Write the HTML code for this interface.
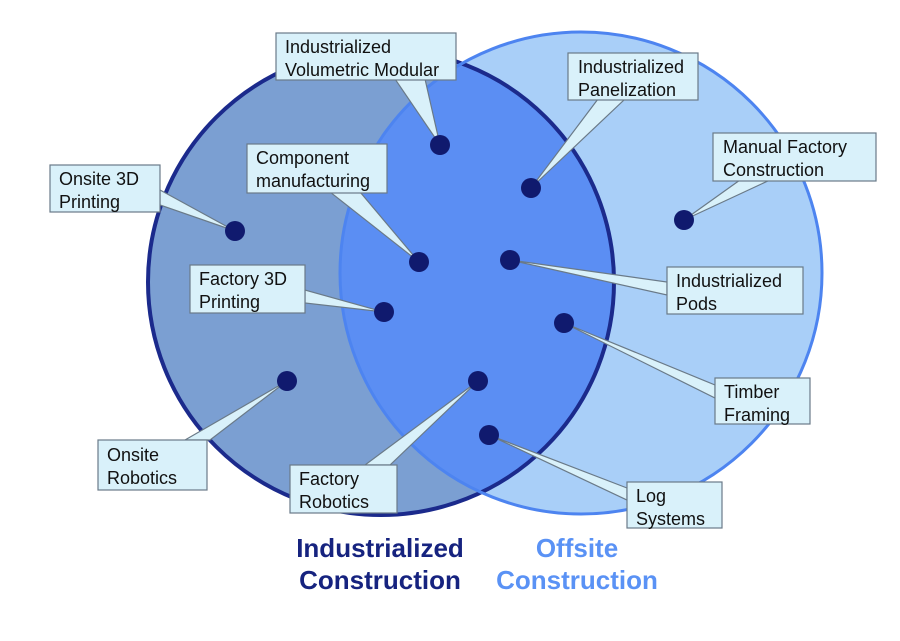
<!DOCTYPE html>
<html><head><meta charset="utf-8"><style>
html,body{margin:0;padding:0;background:#fff;}
svg{display:block;}
text{font-family:"Liberation Sans",Arial,sans-serif;}
</style></head><body>
<svg width="900" height="641" viewBox="0 0 900 641" xmlns="http://www.w3.org/2000/svg">
<defs>
<clipPath id="cl"><circle cx="381" cy="282" r="233"/></clipPath>
</defs>
<circle cx="581" cy="273" r="241" fill="#a9cff8"/>
<circle cx="381" cy="282" r="233" fill="#7b9fd2"/>
<circle cx="581" cy="273" r="241" fill="#5b8ef3" clip-path="url(#cl)"/>
<circle cx="381" cy="282" r="233" fill="none" stroke="#1b2a8c" stroke-width="4"/>
<circle cx="581" cy="273" r="241" fill="none" stroke="#4d84f0" stroke-width="3"/>

<g fill="#d9f1fa" stroke="#6a7a88" stroke-width="1.2">
<polygon points="395,79 425,79 440,145"/>
<polygon points="598,99 625,99 531,188"/>
<polygon points="740,180 770,180 684,220"/>
<polygon points="160,190 160,205 235,231"/>
<polygon points="330,192 360,192 419,262"/>
<polygon points="667,282 667,295 510,260"/>
<polygon points="305,290 305,303 384,312"/>
<polygon points="715,385 715,398 564,323"/>
<polygon points="185,440 210,440 287,381"/>
<polygon points="365,465 390,465 478,381"/>
<polygon points="627,488 627,500 489,435"/>
</g>
<g fill="#d9f1fa" stroke="#6a7a88" stroke-width="1.2">
<rect x="276" y="33" width="180" height="47"/>
<rect x="568" y="53" width="130" height="47"/>
<rect x="713" y="133" width="163" height="48"/>
<rect x="50" y="165" width="110" height="47"/>
<rect x="247" y="144" width="140" height="49"/>
<rect x="667" y="267" width="136" height="47"/>
<rect x="190" y="265" width="115" height="48"/>
<rect x="715" y="378" width="95" height="46"/>
<rect x="98" y="440" width="109" height="50"/>
<rect x="290" y="465" width="107" height="48"/>
<rect x="627" y="482" width="95" height="46"/>
</g>
<g fill="#101a6e">
<circle cx="440" cy="145" r="10"/><circle cx="531" cy="188" r="10"/>
<circle cx="684" cy="220" r="10"/><circle cx="235" cy="231" r="10"/>
<circle cx="419" cy="262" r="10"/><circle cx="510" cy="260" r="10"/>
<circle cx="384" cy="312" r="10"/><circle cx="564" cy="323" r="10"/>
<circle cx="287" cy="381" r="10"/><circle cx="478" cy="381" r="10"/>
<circle cx="489" cy="435" r="10"/>
</g>
<g font-size="18" fill="#111">
<text x="285" y="53">Industrialized</text><text x="285" y="76">Volumetric Modular</text>
<text x="578" y="73">Industrialized</text><text x="578" y="96">Panelization</text>
<text x="723" y="153">Manual Factory</text><text x="723" y="176">Construction</text>
<text x="59" y="185">Onsite 3D</text><text x="59" y="208">Printing</text>
<text x="256" y="164">Component</text><text x="256" y="187">manufacturing</text>
<text x="676" y="287">Industrialized</text><text x="676" y="310">Pods</text>
<text x="199" y="285">Factory 3D</text><text x="199" y="308">Printing</text>
<text x="724" y="398">Timber</text><text x="724" y="421">Framing</text>
<text x="107" y="461">Onsite</text><text x="107" y="484">Robotics</text>
<text x="299" y="485">Factory</text><text x="299" y="508">Robotics</text>
<text x="636" y="502">Log</text><text x="636" y="525">Systems</text>
</g>
<g font-size="26" font-weight="bold" text-anchor="middle">
<text x="380" y="557" fill="#16237f">Industrialized</text>
<text x="380" y="589" fill="#16237f">Construction</text>
<text x="577" y="557" fill="#5a92f5">Offsite</text>
<text x="577" y="589" fill="#5a92f5">Construction</text>
</g>
</svg>
</body></html>
